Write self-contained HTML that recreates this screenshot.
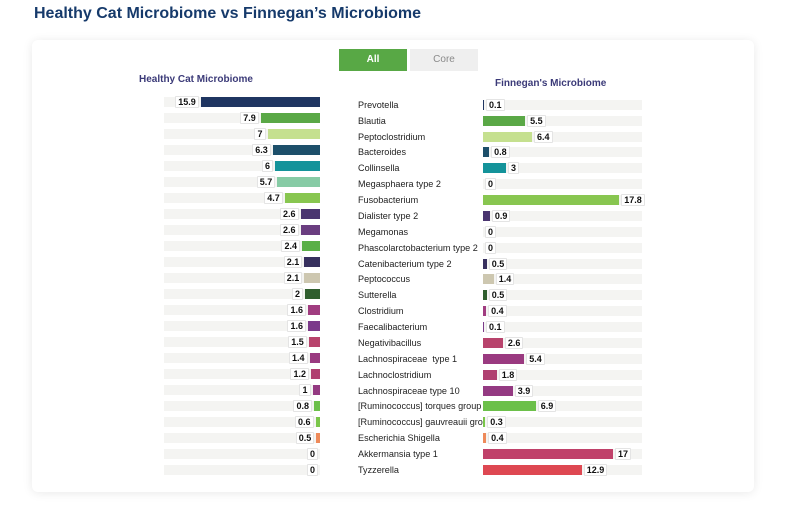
<!DOCTYPE html>
<html>
<head>
<meta charset="utf-8">
<style>
*{margin:0;padding:0;box-sizing:border-box}
body{width:800px;height:509px;background:#fff;position:relative;overflow:hidden;font-family:"Liberation Sans",Arial,sans-serif}
.title{position:absolute;left:34px;top:6px;font-size:16px;line-height:16px;font-weight:bold;color:#163a6b;white-space:nowrap}
.card{position:absolute;left:32px;top:40px;width:722px;height:452px;background:#fff;border-radius:6px;box-shadow:0 1px 10px rgba(0,0,0,0.09)}
.btn{position:absolute;top:49px;width:68px;height:22px;font-size:10px;line-height:22px;text-align:center}
.all{left:339px;background:#58a845;color:#fff;font-weight:bold}
.core{left:410px;background:#efefef;color:#8a8a8a}
.sub{position:absolute;font-size:10px;line-height:12px;font-weight:bold;color:#3b3a78;white-space:nowrap}
.l{position:absolute;left:164px;width:156px;height:10px;background:#f4f4f2;display:flex;flex-direction:row-reverse;align-items:center}
.r{position:absolute;left:483px;width:159px;height:10px;background:#f4f4f2;display:flex;align-items:center}
.b{height:10px;flex:none}
.v{flex:none;font-size:9px;font-weight:bold;line-height:9px;height:12px;padding:1px 2px;background:#fff;border:1px solid #e4e4e4;border-radius:1px;color:#111;white-space:nowrap}
.l .v{margin-right:2px}
.r .v{margin-left:2px}
.n{position:absolute;left:358px;width:125px;overflow:hidden;font-size:9.1px;line-height:12px;color:#222;white-space:nowrap}
</style>
</head>
<body>
<div class="title">Healthy Cat Microbiome vs Finnegan’s Microbiome</div>
<div class="card"></div>
<div class="btn all">All</div>
<div class="btn core">Core</div>
<div class="sub" style="left:139px;top:74px">Healthy Cat Microbiome</div>
<div class="sub" style="left:495px;top:78px">Finnegan's Microbiome</div>

<!-- left -->
<div class="l" style="top:97px"><div class="b" style="width:119.25px;background:#1f3561"></div><div class="v">15.9</div></div>
<div class="l" style="top:113px"><div class="b" style="width:59.25px;background:#5aa846"></div><div class="v">7.9</div></div>
<div class="l" style="top:129px"><div class="b" style="width:52.5px;background:#c5e08f"></div><div class="v">7</div></div>
<div class="l" style="top:145px"><div class="b" style="width:47.25px;background:#1d4f6a"></div><div class="v">6.3</div></div>
<div class="l" style="top:161px"><div class="b" style="width:45px;background:#14939a"></div><div class="v">6</div></div>
<div class="l" style="top:177px"><div class="b" style="width:42.75px;background:#86cba5"></div><div class="v">5.7</div></div>
<div class="l" style="top:193px"><div class="b" style="width:35.25px;background:#88c650"></div><div class="v">4.7</div></div>
<div class="l" style="top:209px"><div class="b" style="width:19.5px;background:#4a3570"></div><div class="v">2.6</div></div>
<div class="l" style="top:225px"><div class="b" style="width:19.5px;background:#6a3d80"></div><div class="v">2.6</div></div>
<div class="l" style="top:241px"><div class="b" style="width:18px;background:#5aaf47"></div><div class="v">2.4</div></div>
<div class="l" style="top:257px"><div class="b" style="width:15.75px;background:#37305e"></div><div class="v">2.1</div></div>
<div class="l" style="top:273px"><div class="b" style="width:15.75px;background:#cdc7b0"></div><div class="v">2.1</div></div>
<div class="l" style="top:289px"><div class="b" style="width:15px;background:#2f5e2e"></div><div class="v">2</div></div>
<div class="l" style="top:305px"><div class="b" style="width:12px;background:#a03c80"></div><div class="v">1.6</div></div>
<div class="l" style="top:321px"><div class="b" style="width:12px;background:#7b3a8a"></div><div class="v">1.6</div></div>
<div class="l" style="top:337px"><div class="b" style="width:11.25px;background:#b8436c"></div><div class="v">1.5</div></div>
<div class="l" style="top:353px"><div class="b" style="width:10.5px;background:#9a3a80"></div><div class="v">1.4</div></div>
<div class="l" style="top:369px"><div class="b" style="width:9px;background:#b04070"></div><div class="v">1.2</div></div>
<div class="l" style="top:385px"><div class="b" style="width:7.5px;background:#943a82"></div><div class="v">1</div></div>
<div class="l" style="top:401px"><div class="b" style="width:6px;background:#6cc04a"></div><div class="v">0.8</div></div>
<div class="l" style="top:417px"><div class="b" style="width:4.5px;background:#7ac64a"></div><div class="v">0.6</div></div>
<div class="l" style="top:433px"><div class="b" style="width:3.75px;background:#ee8a5a"></div><div class="v">0.5</div></div>
<div class="l" style="top:449px"><div class="b" style="width:0px;background:#c0416a"></div><div class="v">0</div></div>
<div class="l" style="top:465px"><div class="b" style="width:0px;background:#de4852"></div><div class="v">0</div></div>

<!-- names -->
<div class="n" style="top:98.8px">Prevotella</div>
<div class="n" style="top:114.7px">Blautia</div>
<div class="n" style="top:130.5px">Peptoclostridium</div>
<div class="n" style="top:146.4px">Bacteroides</div>
<div class="n" style="top:162.3px">Collinsella</div>
<div class="n" style="top:178.2px">Megasphaera type 2</div>
<div class="n" style="top:194px">Fusobacterium</div>
<div class="n" style="top:209.9px">Dialister type 2</div>
<div class="n" style="top:225.8px">Megamonas</div>
<div class="n" style="top:241.6px">Phascolarctobacterium type 2</div>
<div class="n" style="top:257.5px">Catenibacterium type 2</div>
<div class="n" style="top:273.4px">Peptococcus</div>
<div class="n" style="top:289.2px">Sutterella</div>
<div class="n" style="top:305.1px">Clostridium</div>
<div class="n" style="top:321px">Faecalibacterium</div>
<div class="n" style="top:336.9px">Negativibacillus</div>
<div class="n" style="top:352.7px">Lachnospiraceae&nbsp; type 1</div>
<div class="n" style="top:368.6px">Lachnoclostridium</div>
<div class="n" style="top:384.5px">Lachnospiraceae type 10</div>
<div class="n" style="top:400.3px">[Ruminococcus] torques group</div>
<div class="n" style="top:416.2px">[Ruminococcus] gauvreauii group</div>
<div class="n" style="top:432.1px">Escherichia Shigella</div>
<div class="n" style="top:447.9px">Akkermansia type 1</div>
<div class="n" style="top:463.8px">Tyzzerella</div>

<!-- right -->
<div class="r" style="top:99.8px"><div class="b" style="width:1px;background:#1f3561"></div><div class="v">0.1</div></div>
<div class="r" style="top:115.7px"><div class="b" style="width:42.1px;background:#5aa846"></div><div class="v">5.5</div></div>
<div class="r" style="top:131.5px"><div class="b" style="width:49px;background:#c5e08f"></div><div class="v">6.4</div></div>
<div class="r" style="top:147.4px"><div class="b" style="width:6.1px;background:#1d4f6a"></div><div class="v">0.8</div></div>
<div class="r" style="top:163.3px"><div class="b" style="width:23px;background:#14939a"></div><div class="v">3</div></div>
<div class="r" style="top:179.2px"><div class="b" style="width:0px;background:#86cba5"></div><div class="v">0</div></div>
<div class="r" style="top:195px"><div class="b" style="width:136.2px;background:#88c650"></div><div class="v">17.8</div></div>
<div class="r" style="top:210.9px"><div class="b" style="width:6.9px;background:#4a3570"></div><div class="v">0.9</div></div>
<div class="r" style="top:226.8px"><div class="b" style="width:0px;background:#6a3d80"></div><div class="v">0</div></div>
<div class="r" style="top:242.6px"><div class="b" style="width:0px;background:#5aaf47"></div><div class="v">0</div></div>
<div class="r" style="top:258.5px"><div class="b" style="width:3.8px;background:#37305e"></div><div class="v">0.5</div></div>
<div class="r" style="top:274.4px"><div class="b" style="width:10.7px;background:#cdc7b0"></div><div class="v">1.4</div></div>
<div class="r" style="top:290.2px"><div class="b" style="width:3.8px;background:#2f5e2e"></div><div class="v">0.5</div></div>
<div class="r" style="top:306.1px"><div class="b" style="width:3.1px;background:#a03c80"></div><div class="v">0.4</div></div>
<div class="r" style="top:322px"><div class="b" style="width:1px;background:#7b3a8a"></div><div class="v">0.1</div></div>
<div class="r" style="top:337.9px"><div class="b" style="width:19.9px;background:#b8436c"></div><div class="v">2.6</div></div>
<div class="r" style="top:353.7px"><div class="b" style="width:41.3px;background:#9a3a80"></div><div class="v">5.4</div></div>
<div class="r" style="top:369.6px"><div class="b" style="width:13.8px;background:#b04070"></div><div class="v">1.8</div></div>
<div class="r" style="top:385.5px"><div class="b" style="width:29.8px;background:#943a82"></div><div class="v">3.9</div></div>
<div class="r" style="top:401.3px"><div class="b" style="width:52.8px;background:#6cc04a"></div><div class="v">6.9</div></div>
<div class="r" style="top:417.2px"><div class="b" style="width:2.3px;background:#7ac64a"></div><div class="v">0.3</div></div>
<div class="r" style="top:433.1px"><div class="b" style="width:3.1px;background:#ee8a5a"></div><div class="v">0.4</div></div>
<div class="r" style="top:448.9px"><div class="b" style="width:130px;background:#c0416a"></div><div class="v">17</div></div>
<div class="r" style="top:464.8px"><div class="b" style="width:98.7px;background:#de4852"></div><div class="v">12.9</div></div>
</body>
</html>
